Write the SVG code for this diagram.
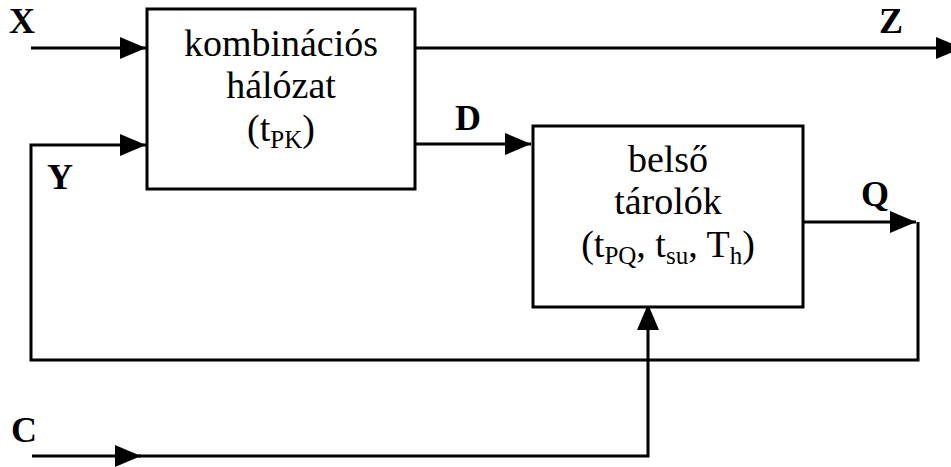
<svg xmlns="http://www.w3.org/2000/svg" width="951" height="467" viewBox="0 0 951 467">
<style>
.box{fill:#fff;stroke:#000;stroke-width:3}
.wire{fill:none;stroke:#000;stroke-width:3;stroke-linejoin:miter}
.t{font-family:"Liberation Serif","Times New Roman",serif;font-size:38px;fill:#000;text-anchor:middle}
.lbl{font-family:"Liberation Serif","Times New Roman",serif;font-size:36px;font-weight:bold;fill:#000}
.sub{font-size:25px}
</style>
<defs>
<marker id="ah" viewBox="0 0 26 22" refX="26" refY="11" markerWidth="26" markerHeight="22" markerUnits="userSpaceOnUse" orient="auto">
<path d="M0,0 L26,11 L0,22 z" fill="#000"/>
</marker>
</defs>
<g id="connectors">
<path class="wire" d="M31,48 H146" marker-end="url(#ah)"/>
<path class="wire" d="M415,48 H962" marker-end="url(#ah)"/>
<path class="wire" d="M415,144 H531" marker-end="url(#ah)"/>
<path class="wire" d="M803,222 H916" marker-end="url(#ah)"/>
<path class="wire" d="M918,222 V360 H31 V145 H146" marker-end="url(#ah)"/>
<path class="wire" d="M32,456 H141" marker-end="url(#ah)"/>
<path class="wire" d="M139,456 H648 V304" marker-end="url(#ah)"/>
</g>
<g id="node-komb">
<rect class="box" x="147" y="9" width="268" height="180"/>
<text class="t" x="281" y="56">kombinációs</text>
<text class="t" x="281" y="98">hálózat</text>
<text class="t" x="281" y="141">(t<tspan class="sub" dy="7">PK</tspan><tspan dy="-7">)</tspan></text>
</g>
<g id="node-tarolok">
<rect class="box" x="533" y="126" width="270" height="181"/>
<text class="t" x="668" y="172">belső</text>
<text class="t" x="668" y="214">tárolók</text>
<text class="t" x="668" y="257">(t<tspan class="sub" dy="7">PQ</tspan><tspan dy="-7">, t</tspan><tspan class="sub" dy="7">su</tspan><tspan dy="-7">, T</tspan><tspan class="sub" dy="7">h</tspan><tspan dy="-7">)</tspan></text>
</g>
<g id="labels">
<text class="lbl" x="9" y="33">X</text>
<text class="lbl" x="47" y="189">Y</text>
<text class="lbl" x="879" y="33">Z</text>
<text class="lbl" x="455" y="130">D</text>
<text class="lbl" x="861" y="206">Q</text>
<text class="lbl" x="11" y="442">C</text>
</g>
</svg>
